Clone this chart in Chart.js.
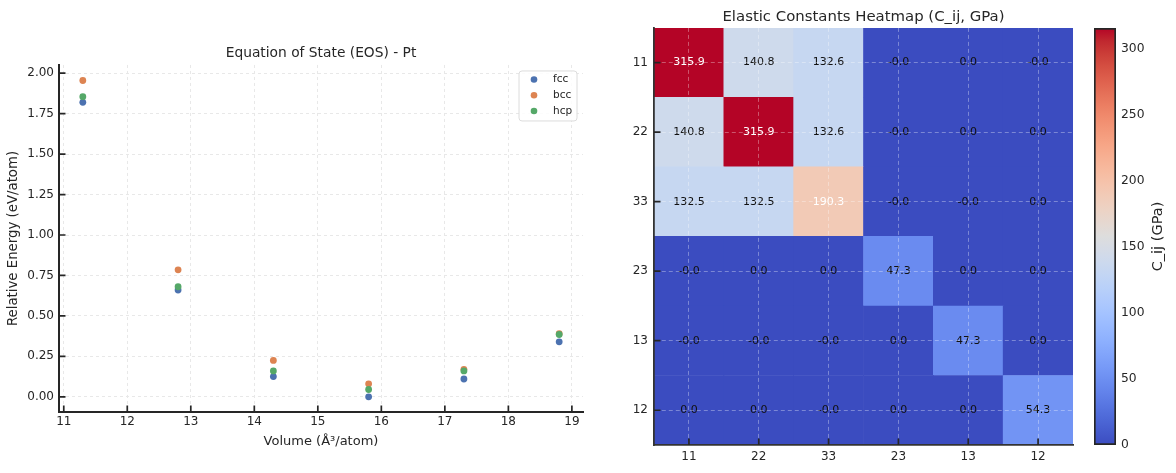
<!DOCTYPE html>
<html>
<head>
<meta charset="utf-8">
<script src="https://cdn.jsdelivr.net/npm/chart.js@4.4.1/dist/chart.umd.min.js"></script>
<style>
  html, body { margin: 0; padding: 0; background: #fff; }
  body { width: 1176px; height: 473px; position: relative; overflow: hidden; }
  .box { position: absolute; top: 0; height: 473px; }
</style>
</head>
<body>
<div class="box" style="left:0;width:620px"><canvas id="eos"></canvas></div>
<div class="box" style="left:600px;width:485px"><canvas id="heat"></canvas></div>
<div class="box" style="left:1080px;width:96px"><canvas id="cbar"></canvas></div>
<script>
// ===== DATA =====
const volumes = [11.3, 12.8, 14.3, 15.8, 17.3, 18.8];
const fccEnergy = [1.82, 0.66, 0.125, 0.0, 0.11, 0.34];
const bccEnergy = [1.955, 0.785, 0.225, 0.08, 0.17, 0.39];
const hcpEnergy = [1.855, 0.68, 0.16, 0.045, 0.16, 0.385];

const voigtLabels = ['11', '22', '33', '23', '13', '12'];
// rows top -> bottom, small negatives print as "-0.0"
const cij = [
    [315.9, 140.8, 132.6, -0.01, 0.0, -0.01],
    [140.8, 315.9, 132.6, -0.01, 0.0, 0.0],
    [132.5, 132.5, 190.3, -0.01, -0.01, 0.0],
    [-0.01, 0.0, 0.0, 47.3, 0.0, 0.0],
    [-0.01, -0.01, -0.01, 0.0, 47.3, 0.0],
    [0.0, 0.0, -0.01, 0.0, 0.0, 54.3]
];
const cbarTicks = [0, 50, 100, 150, 200, 250, 300];
const cMax = 315.9;

const FONT = '"DejaVu Sans", sans-serif';
Chart.defaults.font.family = FONT;
Chart.defaults.color = '#262626';
Chart.defaults.animation = false;

// coolwarm colormap (33 samples)
const coolwarm = [
    [59,76,192],[68,90,204],[77,104,215],[87,117,225],[98,130,234],[108,142,241],
    [119,154,247],[130,165,251],[141,176,254],[152,185,255],[163,194,255],[174,201,253],
    [184,208,249],[194,213,244],[204,217,238],[213,219,230],[221,221,221],[229,216,209],
    [236,211,197],[241,204,185],[245,196,173],[247,187,160],[247,177,148],[247,166,135],
    [244,154,123],[241,141,111],[236,127,99],[229,112,88],[222,96,77],[213,80,66],
    [203,62,56],[192,40,47],[180,4,38]
];
function cmap(t) {
    t = Math.max(0, Math.min(1, t)) * (coolwarm.length - 1);
    const i = Math.min(Math.floor(t), coolwarm.length - 2);
    const f = t - i;
    const a = coolwarm[i], b = coolwarm[i + 1];
    return 'rgb(' + a.map((v, k) => Math.round(v + (b[k] - v) * f)).join(',') + ')';
}

// ticks pointing into the plot, like the matplotlib style
const innerTicks = {
    id: 'innerTicks',
    afterDraw(chart) {
        const { ctx, chartArea } = chart;
        const xs = chart.scales.x, ys = chart.scales.y;
        ctx.save();
        ctx.strokeStyle = '#262626';
        ctx.lineWidth = 1.7;
        ctx.beginPath();
        xs.ticks.forEach((t, i) => {
            const px = xs.getPixelForTick(i);
            ctx.moveTo(px, chartArea.bottom);
            ctx.lineTo(px, chartArea.bottom - 6.5);
        });
        ys.ticks.forEach((t, i) => {
            const py = ys.getPixelForTick(i);
            ctx.moveTo(chartArea.left, py);
            ctx.lineTo(chartArea.left + 6.5, py);
        });
        ctx.stroke();
        ctx.restore();
    }
};

// legend box inside the plot (upper right)
const insideLegend = {
    id: 'insideLegend',
    afterDraw(chart) {
        const { ctx, chartArea } = chart;
        const sets = chart.data.datasets;
        const w = 58, h = 50;
        const x0 = chartArea.right - w - 6, y0 = chartArea.top + 6;
        ctx.save();
        ctx.fillStyle = 'rgba(255,255,255,0.85)';
        ctx.strokeStyle = '#dcdcdc';
        ctx.lineWidth = 1;
        ctx.beginPath();
        ctx.roundRect(x0, y0, w, h, 3);
        ctx.fill();
        ctx.stroke();
        ctx.font = '10.5px ' + FONT;
        ctx.textBaseline = 'middle';
        sets.forEach((ds, i) => {
            const cy = y0 + 8.5 + i * 15.8;
            ctx.fillStyle = ds.backgroundColor;
            ctx.beginPath();
            ctx.arc(x0 + 15, cy, 3.3, 0, Math.PI * 2);
            ctx.fill();
            ctx.fillStyle = '#262626';
            ctx.fillText(ds.label, x0 + 34, cy);
        });
        ctx.restore();
    }
};

// ===== EOS SCATTER =====
function series(label, ys, color, order) {
    return {
        label: label,
        data: volumes.map((v, i) => ({ x: v, y: ys[i] })),
        backgroundColor: color,
        borderColor: color,
        pointRadius: 3.4,
        pointBorderWidth: 0,
        order: order
    };
}

new Chart(document.getElementById('eos'), {
    type: 'scatter',
    data: {
        datasets: [
            series('fcc', fccEnergy, '#4c72b0', 2),
            series('bcc', bccEnergy, '#dd8452', 1),
            series('hcp', hcpEnergy, '#55a868', 0)
        ]
    },
    options: {
        responsive: true,
        maintainAspectRatio: false,
        layout: { padding: { left: 0, right: 37, top: 0, bottom: 22 } },
        plugins: {
            legend: { display: false },
            tooltip: { enabled: false },
            title: {
                display: true,
                fullSize: false,
                text: 'Equation of State (EOS) - Pt',
                font: { size: 13.8, weight: 'normal' },
                color: '#262626',
                padding: { top: 45, bottom: 3.4 }
            }
        },
        scales: {
            x: {
                type: 'linear',
                min: 10.925,
                max: 19.175,
                afterFit: s => { s.height = 39; },
                ticks: { stepSize: 1, includeBounds: false, padding: 3, font: { size: 12 } },
                grid: { color: '#e8e8e8', drawTicks: false },
                border: { color: '#262626', width: 2, dash: [3, 3] },
                title: { display: true, text: 'Volume (Å³/atom)', font: { size: 13 }, padding: { top: 2, bottom: 2 } }
            },
            y: {
                min: -0.094,
                max: 2.051,
                afterFit: s => { s.width = 59; },
                ticks: {
                    stepSize: 0.25, includeBounds: false, padding: 5, font: { size: 12 },
                    callback: v => v.toFixed(2)
                },
                grid: { color: '#e8e8e8', drawTicks: false },
                border: { color: '#262626', width: 2, dash: [3, 3] },
                title: { display: true, text: 'Relative Energy (eV/atom)', font: { size: 13.3 }, padding: { top: 6, bottom: 2 } }
            }
        }
    },
    plugins: [innerTicks, insideLegend]
});

// ===== ELASTIC CONSTANTS HEATMAP =====
// one stacked dataset per row, bottom row first
const heatSets = cij.slice().reverse().map((row, d) => ({
    label: voigtLabels[5 - d],
    data: row.map(() => 1),
    backgroundColor: row.map(v => cmap(v / cMax)),
    borderWidth: 0,
    barPercentage: 1,
    categoryPercentage: 1
}));

const cellText = {
    id: 'cellText',
    afterDatasetsDraw(chart) {
        const ctx = chart.ctx;
        ctx.save();
        ctx.font = '11px ' + FONT;
        ctx.textAlign = 'center';
        ctx.textBaseline = 'middle';
        chart.data.datasets.forEach((ds, d) => {
            const row = cij[5 - d];
            chart.getDatasetMeta(d).data.forEach((bar, c) => {
                const v = row[c];
                ctx.fillStyle = v > cMax * 0.5 ? '#ffffff' : '#111111';
                ctx.fillText(v.toFixed(1), bar.x, (bar.y + bar.base) / 2);
            });
        });
        ctx.restore();
    }
};

const heatGrid = { z: 1, color: 'rgba(255,255,255,0.33)', lineWidth: 1, drawTicks: false };

new Chart(document.getElementById('heat'), {
    type: 'bar',
    data: { labels: voigtLabels, datasets: heatSets },
    options: {
        responsive: true,
        maintainAspectRatio: false,
        layout: { padding: { left: 0, right: 12, top: 0, bottom: 0 } },
        plugins: {
            legend: { display: false },
            tooltip: { enabled: false },
            title: {
                display: true,
                fullSize: false,
                text: 'Elastic Constants Heatmap (C_ij, GPa)',
                font: { size: 14.9, weight: 'normal' },
                color: '#262626',
                padding: { top: 8, bottom: 2 }
            }
        },
        scales: {
            x: {
                stacked: true,
                afterFit: s => { s.height = 28; },
                ticks: { padding: 5, font: { size: 12 } },
                grid: Object.assign({ offset: false }, heatGrid),
                border: { z: 1, color: '#333', width: 1.8, dash: [4, 3] }
            },
            y: {
                stacked: true,
                min: 0,
                max: 6,
                afterFit: s => { s.width = 54; },
                afterBuildTicks: s => {
                    s.ticks = voigtLabels.map((l, i) => ({ value: i + 0.5 }));
                },
                ticks: {
                    padding: 6, font: { size: 12 },
                    callback: v => voigtLabels[5 - Math.floor(v)]
                },
                grid: Object.assign({}, heatGrid),
                border: { z: 1, color: '#333', width: 1.8, dash: [4, 3] }
            }
        }
    },
    plugins: [cellText, innerTicks]
});

// ===== COLORBAR =====
const cbarLabel = {
    id: 'cbarLabel',
    afterDraw(chart) {
        const { ctx, chartArea } = chart;
        ctx.save();
        ctx.font = '14.5px ' + FONT;
        ctx.fillStyle = '#262626';
        ctx.textAlign = 'center';
        ctx.textBaseline = 'middle';
        ctx.translate(chartArea.right + 42, (chartArea.top + chartArea.bottom) / 2);
        ctx.rotate(-Math.PI / 2);
        ctx.fillText('C_ij (GPa)', 0, 0);
        ctx.restore();
    }
};

new Chart(document.getElementById('cbar'), {
    type: 'bar',
    data: {
        labels: ['C_ij'],
        datasets: [{
            data: [cMax],
            barPercentage: 1,
            categoryPercentage: 1,
            borderColor: '#262626',
            borderWidth: 2,
            borderSkipped: false,
            backgroundColor: (c) => {
                const area = c.chart.chartArea;
                if (!area) return '#ccc';
                const g = c.chart.ctx.createLinearGradient(0, area.bottom, 0, area.top);
                coolwarm.forEach((col, i) => g.addColorStop(i / (coolwarm.length - 1), cmap(i / (coolwarm.length - 1))));
                return g;
            }
        }]
    },
    options: {
        responsive: true,
        maintainAspectRatio: false,
        layout: { padding: { left: 14, right: 0, top: 28, bottom: 28 } },
        plugins: { legend: { display: false }, tooltip: { enabled: false } },
        scales: {
            x: { display: false },
            y: {
                position: 'right',
                min: 0,
                max: cMax,
                afterFit: s => { s.width = 60; },
                afterBuildTicks: s => { s.ticks = cbarTicks.map(v => ({ value: v })); },
                ticks: { padding: 5, font: { size: 12.3 } },
                grid: { display: false, drawTicks: false },
                border: { display: false }
            }
        }
    },
    plugins: [cbarLabel]
});
</script>
</body>
</html>
